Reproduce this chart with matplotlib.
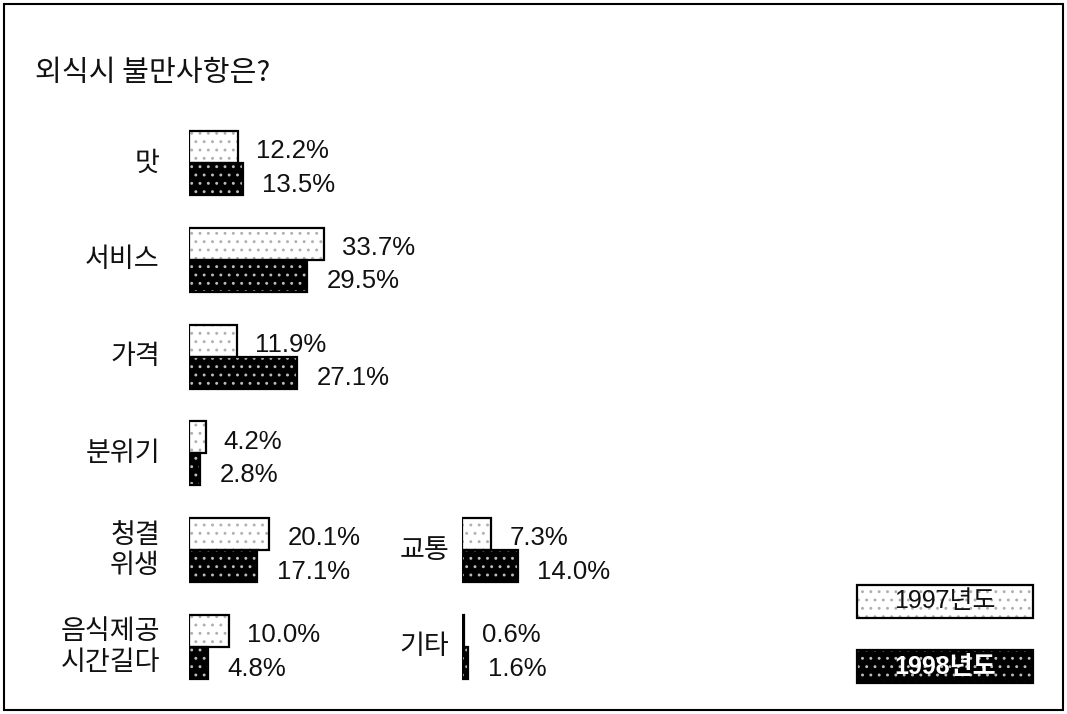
import matplotlib
matplotlib.use("Agg")
import matplotlib.pyplot as plt
from matplotlib.patches import Rectangle

# ---- data ----
title = "외식시 불만사항은?"
left_categories = ["맛", "서비스", "가격", "분위기", "청결\n위생", "음식제공\n시간길다"]
left_1997 = [12.2, 33.7, 11.9, 4.2, 20.1, 10.0]
left_1998 = [13.5, 29.5, 27.1, 2.8, 17.1, 4.8]
right_categories = ["교통", "기타"]
right_rows = [4, 5]
right_1997 = [7.3, 0.6]
right_1998 = [14.0, 1.6]
legend_labels = ["1997년도", "1998년도"]

KR = ["Noto Sans CJK KR", "DejaVu Sans"]
NUM = ["Liberation Sans", "Noto Sans CJK KR"]

W, H = 1067, 714
fig = plt.figure(figsize=(W / 100, H / 100), dpi=100)
fig.patch.set_facecolor("white")

PX_PER_PCT = 4.0
ROW_TOP_PX = 163.0
ROW_STEP_PX = 96.8
BAR_H = 32.0 / ROW_STEP_PX
n_rows = len(left_categories)
ax_top_px = ROW_TOP_PX - ROW_STEP_PX / 2
ax_bot_px = ROW_TOP_PX + ROW_STEP_PX * (n_rows - 0.5)


def make_axes(left_px, width_px):
    ax = fig.add_axes([left_px / W, 1 - ax_bot_px / H, width_px / W,
                       (ax_bot_px - ax_top_px) / H])
    ax.set_xlim(0, width_px / PX_PER_PCT)
    ax.set_ylim(n_rows - 0.5, -0.5)
    ax.axis("off")
    return ax


plt.rcParams["hatch.linewidth"] = 0.9

C97_DOT = "#b0b0b0"
C98_DOT = "#bdbdbd"


def draw_pairs(ax, rows, v97, v98, labels, label_gap):
    y97 = [r - BAR_H / 2 for r in rows]
    y98 = [r + BAR_H / 2 for r in rows]
    # 1997: white with light dots
    ax.barh(y97, v97, height=BAR_H, color="white", edgecolor=C97_DOT,
            hatch="..", linewidth=0)
    ax.barh(y97, v97, height=BAR_H, fill=False, edgecolor="black", linewidth=1.6)
    # 1998: black with white speckles
    ax.barh(y98, v98, height=BAR_H, color="black", edgecolor=C98_DOT,
            hatch="..", linewidth=0)
    ax.barh(y98, v98, height=BAR_H, fill=False, edgecolor="black", linewidth=1.6)
    for y, v in zip(y97, v97):
        ax.annotate(f"{v:.1f}%", xy=(v, y), xytext=(13, -3), textcoords="offset points",
                    ha="left", va="center", fontsize=18.5, family=NUM, color="#111111")
    for y, v in zip(y98, v98):
        ax.annotate(f"{v:.1f}%", xy=(v, y), xytext=(14, -4), textcoords="offset points",
                    ha="left", va="center", fontsize=18.5, family=NUM, color="#111111")
    for r, lab in zip(rows, labels):
        ax.annotate(lab, xy=(0, r), xytext=(-label_gap, 0), textcoords="offset points",
                    ha="right", va="center", fontsize=19.5, family=KR, color="#111111",
                    linespacing=1.15, multialignment="right")


axL = make_axes(189, 300)
draw_pairs(axL, list(range(n_rows)), left_1997, left_1998, left_categories, 21)

axR = make_axes(462, 200)
draw_pairs(axR, right_rows, right_1997, right_1998, right_categories, 9)

# title
fig.text(35 / W, 1 - 73 / H, title, fontsize=21, family=KR, ha="left", va="center",
         color="#111111")

# legend boxes
lx, lw_, lh = 857 / W, 176 / W, 33 / H
for i, (lab, face, tcol) in enumerate(zip(legend_labels, ["white", "black"],
                                         ["#111111", "white"])):
    ytop = 585 + i * 65
    yb = 1 - (ytop + 33) / H
    dot = C97_DOT if face == "white" else C98_DOT
    fig.add_artist(Rectangle((lx, yb), lw_, lh, transform=fig.transFigure,
                             facecolor=face, edgecolor=dot, hatch="..",
                             linewidth=0))
    fig.add_artist(Rectangle((lx, yb), lw_, lh, transform=fig.transFigure,
                             fill=False, edgecolor="black", linewidth=1.6))
    fig.text(lx + lw_ / 2, yb + lh / 2, lab, ha="center", va="center", fontsize=18,
             family=NUM, color=tcol, fontweight="bold" if face == "black" else "normal")

# outer frame
fig.add_artist(Rectangle((4 / W, 1 - 710 / H), (1063 - 4) / W, (710 - 4) / H,
                         transform=fig.transFigure, fill=False, edgecolor="black",
                         linewidth=1.5))

fig.savefig("out.png", dpi=100, facecolor="white")
